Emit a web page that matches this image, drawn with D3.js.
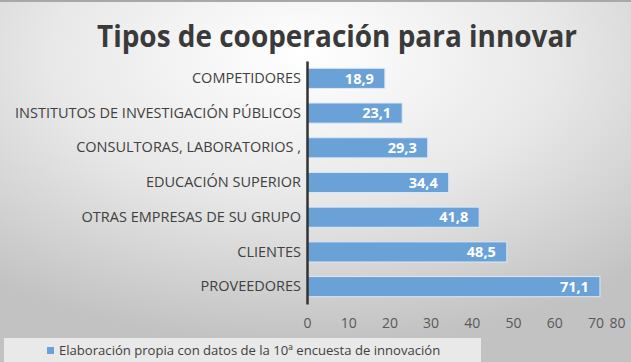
<!DOCTYPE html>
<html><head><meta charset="utf-8">
<script src="https://cdn.jsdelivr.net/npm/d3@7"></script>
<style>html,body{margin:0;padding:0;overflow:hidden;background:#fff}</style>
</head><body>
<script>
const categories = ["COMPETIDORES","INSTITUTOS DE INVESTIGACIÓN PÚBLICOS","CONSULTORAS, LABORATORIOS ,","EDUCACIÓN SUPERIOR","OTRAS EMPRESAS DE SU GRUPO","CLIENTES","PROVEEDORES"];
const values = [18.9, 23.1, 29.3, 34.4, 41.8, 48.5, 71.1];
const valueLabels = ["18,9","23,1","29,3","34,4","41,8","48,5","71,1"];
const xTicks = [0,10,20,30,40,50,60,70,80];
const title = "Tipos de cooperación para innovar";
const legendText = "Elaboración propia con datos de la 10ª encuesta de innovación";

const W = 631, H = 362;
const font = "'Open Sans', sans-serif";
const svg = d3.select("body").append("svg").attr("width", W).attr("height", H);
const defs = svg.append("defs");
const rg = defs.append("radialGradient").attr("id","bg").attr("cx","48%").attr("cy","15%").attr("r","80%");
rg.append("stop").attr("offset","0%").attr("stop-color","#ffffff");
rg.append("stop").attr("offset","50%").attr("stop-color","#e8e8e8");
rg.append("stop").attr("offset","100%").attr("stop-color","#c2c2c2");
svg.append("rect").attr("width",W).attr("height",H).attr("fill","url(#bg)");
svg.append("rect").attr("width",W).attr("height",2).attr("fill","#a8a8a8");

// title
svg.append("text").attr("x",337).attr("y",47).attr("text-anchor","middle")
  .attr("font-family",font).attr("font-weight","bold").attr("font-size",30)
  .attr("fill","#3a3a3a").attr("textLength",480).attr("lengthAdjust","spacingAndGlyphs").text(title);

const x = d3.scaleLinear().domain([0,80]).range([307, 636.6]);
const y = d3.scaleBand().domain(categories).range([61, 304]).paddingInner(0.42).paddingOuter(0.21);

// bars
svg.append("g").selectAll("rect").data(values).join("rect")
  .attr("x", x(0)).attr("y",(d,i)=>y(categories[i]))
  .attr("width", d=>x(d)-x(0)).attr("height", y.bandwidth())
  .attr("fill","#6aa2d8").attr("stroke","#dce8f4").attr("stroke-width",1);

svg.append("g").selectAll("text").data(values).join("text")
  .attr("x", d=>x(d)-11).attr("y",(d,i)=>y(categories[i])+y.bandwidth()/2)
  .attr("dy","0.36em").attr("text-anchor","end")
  .attr("font-family",font).attr("font-weight","bold").attr("font-size",14.5)
  .attr("fill","#ffffff").text((d,i)=>valueLabels[i]);

// category axis
const yAxis = d3.axisLeft(y).tickSize(0).tickPadding(6);
const gy = svg.append("g").attr("transform",`translate(${x(0)},0)`).call(yAxis);
gy.select(".domain").attr("stroke","#333").attr("stroke-width",2.5);
gy.selectAll("text").attr("font-family",font).attr("font-size",14.5).attr("fill","#404040");

// x tick labels
const xAxis = d3.axisBottom(x).tickValues(xTicks).tickSize(0).tickPadding(0);
const gx = svg.append("g").attr("transform","translate(0,318)").call(xAxis);
gx.select(".domain").remove();
gx.selectAll("text").attr("font-family",font).attr("font-size",14).attr("fill","#595959")
  .attr("transform", function(d){ const px=x(d); const w=this.getComputedTextLength(); const lim=W-6-w/2; return px>lim?`translate(${lim-px},0)`:null; });

// legend
const lg = svg.append("g");
lg.append("rect").attr("x",4).attr("y",338).attr("width",477).attr("height",24).attr("fill","#f2f2f2").attr("opacity",0.8);
lg.append("rect").attr("x",47).attr("y",347).attr("width",7).attr("height",7).attr("fill","#6aa2d8");
lg.append("text").attr("x",59).attr("y",355).attr("font-family",font).attr("font-size",13.1).attr("fill","#404040").text(legendText);
</script>
</body></html>
